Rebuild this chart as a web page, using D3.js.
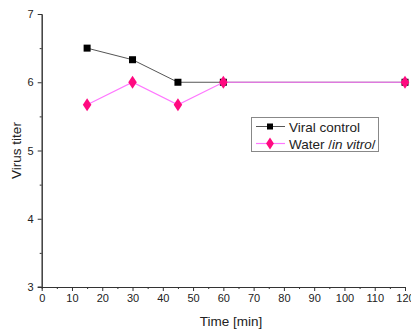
<!DOCTYPE html>
<html><head><meta charset="utf-8">
<script src="https://cdn.jsdelivr.net/npm/d3@7"></script>
<style>body{margin:0;background:#fff}svg{display:block;font-family:"Liberation Sans",Arial,sans-serif}</style>
</head><body><svg id="c" width="411" height="330"></svg>
<script>
const times = [15, 30, 45, 60, 120];
const viralControl = [6.5, 6.33, 6.0, 6.0, 6.0];
const waterInVitro = [5.67, 6.0, 5.67, 6.0, 6.0];
const xTicks = [0,10,20,30,40,50,60,70,80,90,100,110,120];
const yTicks = [3,4,5,6,7];

const svg = d3.select("#c");
const x = d3.scaleLinear().domain([0,120]).range([41.7,405]);
const y = d3.scaleLinear().domain([3,7]).range([287,14]);

// axes
svg.append("g").attr("transform",`translate(0,${y(3)})`)
  .call(d3.axisBottom(x).tickValues(d3.range(5,120,10)).tickSize(2).tickFormat(""));
svg.append("g").attr("transform",`translate(0,${y(3)})`)
  .call(d3.axisBottom(x).tickValues(xTicks).tickSize(4).tickPadding(3).tickSizeOuter(0).tickFormat(d3.format("d")));
svg.append("g").attr("transform",`translate(${x(0)},0)`)
  .call(d3.axisLeft(y).tickValues(d3.range(3.5,7,1)).tickSize(2).tickFormat(""));
svg.append("g").attr("transform",`translate(${x(0)},0)`)
  .call(d3.axisLeft(y).tickValues(yTicks).tickSize(4).tickPadding(4).tickSizeOuter(0).tickFormat(d3.format("d")));
svg.selectAll(".domain").attr("stroke","#333");
svg.selectAll(".tick line").attr("stroke","#333");
svg.selectAll(".tick text").attr("font-size",11).attr("fill","#222").attr("font-family","Liberation Sans, Arial, sans-serif");
svg.append("line").attr("x1",x(0)-4).attr("x2",x(0)).attr("y1",y(3)).attr("y2",y(3)).attr("stroke","#333");

svg.append("text").attr("x",x(62.5)).attr("y",326).attr("text-anchor","middle").attr("font-size",13.5).attr("fill","#222").text("Time [min]");
svg.append("text").attr("transform",`translate(21,${y(5)}) rotate(-90)`).attr("text-anchor","middle").attr("font-size",13.5).attr("fill","#222").text("Virus titer");

const line = d3.line().x(d=>x(d[0])).y(d=>y(d[1]));
const vc = times.map((t,i)=>[t,viralControl[i]]);
const wv = times.map((t,i)=>[t,waterInVitro[i]]);
svg.append("path").attr("d",line(vc)).attr("fill","none").attr("stroke","#555").attr("stroke-width",1);
svg.selectAll(".sq").data(vc).enter().append("rect").attr("x",d=>x(d[0])-3.5).attr("y",d=>y(d[1])-3.5).attr("width",7).attr("height",7).attr("fill","#000");
svg.append("path").attr("d",line(wv)).attr("fill","none").attr("stroke","#ff77ff").attr("stroke-width",1.2);
const dia = d3.symbol().type(d3.symbolDiamond).size(48);
svg.selectAll(".dm").data(wv).enter().append("path").attr("d",dia).attr("transform",d=>`translate(${x(d[0])},${y(d[1])}) scale(1.15,1)`).attr("fill","#ff0a80");

// legend
const lg = svg.append("g");
lg.append("rect").attr("x",251.5).attr("y",117.5).attr("width",127).attr("height",34).attr("fill","#fff").attr("stroke","#888");
lg.append("line").attr("x1",256).attr("x2",285).attr("y1",126.5).attr("y2",126.5).attr("stroke","#555");
lg.append("rect").attr("x",267).attr("y",123.5).attr("width",6).attr("height",6).attr("fill","#000");
lg.append("line").attr("x1",256).attr("x2",285).attr("y1",143.5).attr("y2",143.5).attr("stroke","#ff77ff").attr("stroke-width",1.2);
lg.append("path").attr("d",d3.symbol().type(d3.symbolDiamond).size(40)).attr("transform","translate(270,143.5) scale(1.15,1)").attr("fill","#ff0a80");
lg.append("text").attr("x",289).attr("y",131.5).attr("font-size",13.5).attr("fill","#222").text("Viral control");
const t2 = lg.append("text").attr("x",289).attr("y",148.5).attr("font-size",13.5).attr("fill","#222");
t2.append("tspan").text("Water /");
t2.append("tspan").attr("font-style","italic").text("in vitro");
t2.append("tspan").text("/");
</script></body></html>
